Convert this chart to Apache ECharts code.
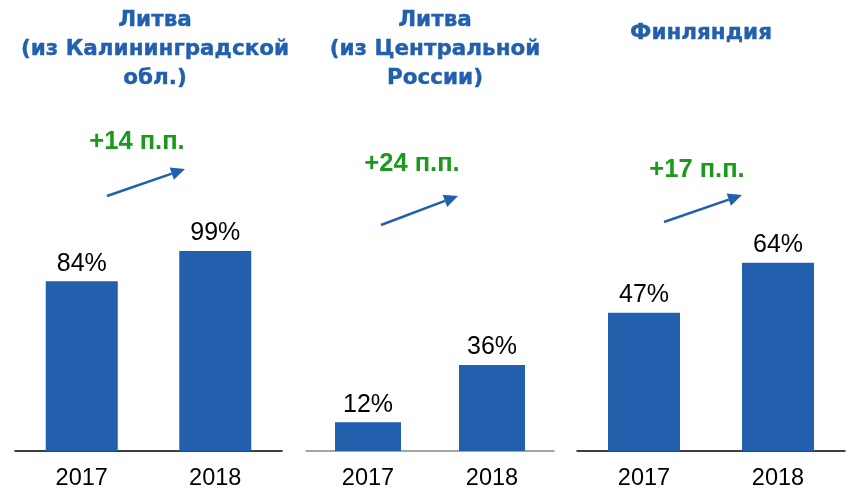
<!DOCTYPE html>
<html>
<head>
<meta charset="utf-8">
<script src="https://cdn.jsdelivr.net/npm/echarts@6/dist/echarts.min.js"></script>
<style>
  html, body { margin: 0; padding: 0; background: #fff; }
  #chart { width: 846px; height: 491px; }
</style>
</head>
<body>
<div id="chart"></div>
<script>
var years = ['2017', '2018'];
var panelTitles = ['Литва\n(из Калининградской\nобл.)', 'Литва\n(из Центральной\nРоссии)', 'Финляндия'];
var kaliningradValues = [84, 99];
var centralValues = [12, 36];
var finlandValues = [47, 64];
var changeLabels = ['+14 п.п.', '+24 п.п.', '+17 п.п.'];

var blue = '#2260ad';
var green = '#1a9a1a';

var chart = echarts.init(document.getElementById('chart'));

// panel geometry: each panel has its own scale
var panels = [
    { left: 15, width: 267, bottom: 40, top: 249, axisColor: '#000', barWidth: 72, data: kaliningradValues },
    { left: 306, width: 248, bottom: 39, top: 212, axisColor: '#888', barWidth: 66, data: centralValues },
    { left: 577, width: 268, bottom: 39, top: 157, axisColor: '#000', barWidth: 72, data: finlandValues }
];

var grids = [], xAxes = [], yAxes = [], series = [];
panels.forEach(function (p, i) {
    grids.push({ left: p.left, width: p.width, top: p.top, bottom: p.bottom });
    xAxes.push({
        type: 'category',
        gridIndex: i,
        data: years,
        axisLine: { show: true, lineStyle: { color: p.axisColor, width: 1.5 } },
        axisTick: { show: false },
        axisLabel: { color: '#000', fontSize: 23.5, fontFamily: 'Liberation Sans', margin: 16 }
    });
    yAxes.push({
        type: 'value',
        gridIndex: i,
        min: 0,
        max: 100,
        show: false
    });
    series.push({
        type: 'bar',
        xAxisIndex: i,
        yAxisIndex: i,
        data: p.data,
        barWidth: p.barWidth,
        itemStyle: { color: blue },
        label: {
            show: true,
            position: 'top',
            distance: 5,
            color: '#000',
            fontSize: 25,
            fontFamily: 'Liberation Sans',
            formatter: '{c}%'
        }
    });
});

var titleStyle = {
    color: blue,
    fontSize: 21.5,
    fontWeight: 'bold',
    fontFamily: 'DejaVu Sans',
    lineHeight: 29,
    textBorderColor: blue,
    textBorderWidth: 0.4
};

// arrow annotation: shaft + head
function arrow(x1, y1, x2, y2) {
    var ang = Math.atan2(y2 - y1, x2 - x1);
    var len = 14, half = 6.5;
    var bx = x2 - len * Math.cos(ang), by = y2 - len * Math.sin(ang);
    var px = -Math.sin(ang) * half, py = Math.cos(ang) * half;
    return [{
        type: 'line',
        shape: { x1: x1, y1: y1, x2: bx, y2: by },
        style: { stroke: blue, lineWidth: 2.5 }
    }, {
        type: 'polygon',
        shape: { points: [[x2, y2], [bx + px, by + py], [bx - px, by - py]] },
        style: { fill: blue }
    }];
}

var changePos = [[137, 142], [412, 164], [697, 170]];
var graphics = [];
changeLabels.forEach(function (t, i) {
    graphics.push({
        type: 'text',
        x: changePos[i][0],
        y: changePos[i][1],
        style: {
            text: t,
            fill: green,
            font: 'bold 25.5px "Liberation Sans"',
            textAlign: 'center',
            textVerticalAlign: 'middle'
        }
    });
});
graphics = graphics
    .concat(arrow(107, 196, 185, 169))
    .concat(arrow(381, 225, 458, 196))
    .concat(arrow(664, 222, 742, 195));

var option = {
    backgroundColor: '#fff',
    animation: false,
    title: [
        { text: panelTitles[0], left: 150, top: 1, textAlign: 'center', textStyle: titleStyle },
        { text: panelTitles[1], left: 430, top: 1, textAlign: 'center', textStyle: titleStyle },
        { text: panelTitles[2], left: 696, top: 14, textAlign: 'center', textStyle: titleStyle }
    ],
    grid: grids,
    xAxis: xAxes,
    yAxis: yAxes,
    series: series,
    graphic: graphics
};

chart.setOption(option);
</script>
</body>
</html>
